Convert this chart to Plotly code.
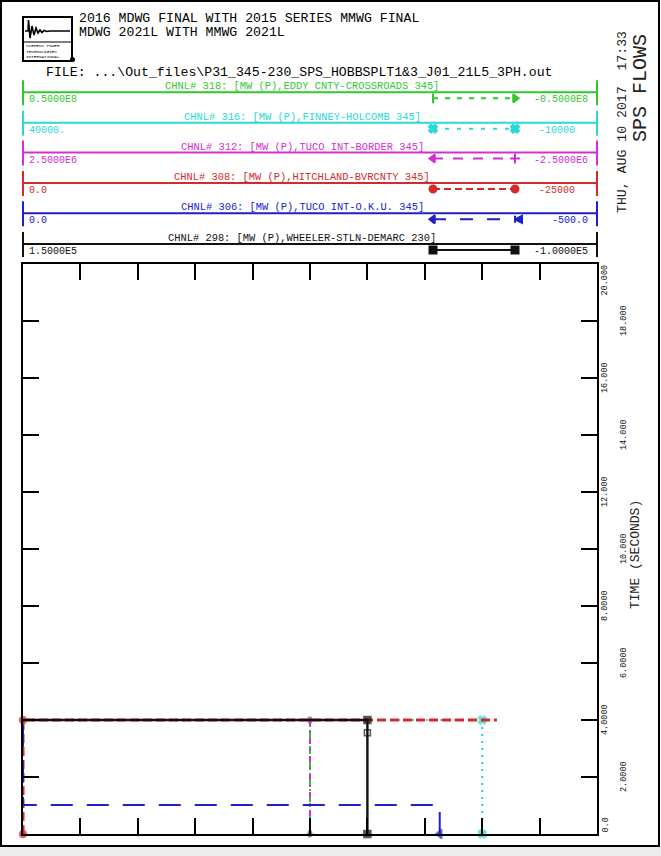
import plotly.graph_objects as go

W, H = 661, 856
FONT = "Liberation Mono"

# ---- channel metadata -------------------------------------------------
chan_titles = [
    "CHNL# 318: [MW (P),EDDY CNTY-CROSSROADS 345]",
    "CHNL# 316: [MW (P),FINNEY-HOLCOMB 345]",
    "CHNL# 312: [MW (P),TUCO INT-BORDER 345]",
    "CHNL# 308: [MW (P),HITCHLAND-BVRCNTY 345]",
    "CHNL# 306: [MW (P),TUCO INT-O.K.U. 345]",
    "CHNL# 298: [MW (P),WHEELER-STLN-DEMARC 230]",
]
chan_colors = ["#2ec82e", "#2ad8d8", "#d22ed2", "#d42a2a", "#2020c8", "#111111"]
scale_left = [0.5e8, 40000.0, 2.5e6, 0.0, 0.0, 1.5e5]
scale_right = [-0.5e8, -10000.0, -2.5e6, -25000.0, -500.0, -1.0e5]
left_labels = ["0.5000E8", "40000.", "2.5000E6", "0.0", "0.0", "1.5000E5"]
right_labels = ["-0.5000E8", "-10000", "-2.5000E6", "-25000", "-500.0", "-1.0000E5"]

# ---- simulated channel output (time in s, flow in MW) -----------------
t_318 = [0.0, 4.0, 4.0]
mw_318 = [0.0, 0.0, 2.45e7]
t_316 = [0.0, 4.0, 4.0]
mw_316 = [0.0, 0.0, 40000.0]
t_312 = [0.0, 4.0, 4.0]
mw_312 = [0.0, 0.0, 1.23e6]
t_308 = [0.0, 4.0, 4.0]
mw_308 = [0.0, 0.0, -20640.0]
t_306 = [0.0, 1.02, 1.02, 4.0]
mw_306 = [-363.0, -363.0, 0.0, 0.0]
t_298 = [0.0, 3.55, 4.0, 4.0]
mw_298 = [0.0, 0.0, 0.0, 1.5e5]

time_ticks = [0, 2, 4, 6, 8, 10, 12, 14, 16, 18, 20]
time_labels = ["0.0", "2.0000", "4.0000", "6.0000", "8.0000", "10.000",
               "12.000", "14.000", "16.000", "18.000", "20.000"]

# ---- page geometry (pixels) -------------------------------------------
PL, PR, PT, PB = 23, 597, 264, 834
panel_lines = [92.3, 122.7, 152.5, 183.0, 213.3, 244.0]
right_label_x = [533, 538, 533, 538, 551, 533]


def px(x):
    return x / W


def py(y):
    return 1 - y / H


fig = go.Figure()

# ---- traces on per-channel value axes ---------------------------------
series = [
    # (x-axis, times, values, colour index, dash, width, marker symbols, sizes)
    ("x2", t_316, mw_316, 1, "2px,5px", 2.2, ["x", "x", "x"], [7, 7, 0]),
    ("x6", t_298, mw_298, 5, "solid", 2.4, ["square", "square-open", "square", "square"], [7, 6, 7, 0]),
    ("x", t_318, mw_318, 0, "8px,3px,2px,3px", 2, ["triangle-right", "triangle-right", "circle"], [6, 6, 0]),
    ("x3", t_312, mw_312, 2, "6px,5px,2px,5px", 2, ["triangle-left", "triangle-left", "circle"], [5, 5, 0]),
    ("x5", t_306, mw_306, 4, "22px,14px", 2, ["triangle-left", "circle", "circle", "circle"], [8, 0, 0, 0]),
    ("x4", t_308, mw_308, 3, "9px,4px", 3, ["circle", "circle", "circle"], [7, 7, 0]),
]
for xa, tt, vv, ci, dash, wdt, syms, sizes in series:
    fig.add_trace(go.Scatter(
        x=vv, y=tt, xaxis=xa, yaxis="y", mode="lines+markers",
        line=dict(color=chan_colors[ci], width=wdt, dash=dash),
        marker=dict(symbol=syms, size=sizes, color=chan_colors[ci],
                    line=dict(color=chan_colors[ci], width=1.5)),
        cliponaxis=False, showlegend=False, hoverinfo="skip",
    ))

# ---- legend keys (drawn on a page-sized overlay axis) ----------------
key_dash = ["5px,7px", "4px,8px", "10px,10px", "7px,4px", "13px,14px", "solid"]
key_syms = [("line-ns-open", "triangle-right"), ("x", "x"),
            ("triangle-left", "cross-thin-open"), ("circle", "circle"),
            ("triangle-left", "arrow-bar-left"), ("square", "square")]
for i in range(6):
    yk = panel_lines[i] + 6
    fig.add_trace(go.Scatter(
        x=[433, 515], y=[yk, yk], xaxis="x7", yaxis="y2", mode="lines+markers",
        line=dict(color=chan_colors[i], width=2, dash=key_dash[i]),
        marker=dict(symbol=list(key_syms[i]), size=7, color=chan_colors[i],
                    line=dict(color=chan_colors[i], width=2)),
        showlegend=False, hoverinfo="skip",
    ))

dom_x = [px(PL), px(PR)]
dom_y = [py(PB), py(PT)]
layout_axes = dict(
    xaxis=dict(domain=dom_x, range=[scale_left[0], scale_right[0]], anchor="y",
               showline=True, linewidth=2, linecolor="black", mirror="ticks",
               ticks="inside", ticklen=16, tickwidth=2, tickcolor="black",
               tick0=0, dtick=1e7, showticklabels=False, showgrid=False, zeroline=False),
    yaxis=dict(domain=dom_y, range=[0, 20], anchor="x",
               showline=True, linewidth=2, linecolor="black", mirror="ticks",
               ticks="inside", ticklen=16, tickwidth=2, tickcolor="black",
               tickvals=time_ticks, showticklabels=False, showgrid=False, zeroline=False),
    xaxis7=dict(domain=[0, 1], range=[0, W], anchor="y2", visible=False),
    yaxis2=dict(domain=[0, 1], range=[H, 0], anchor="x7", visible=False),
)
for k in range(1, 6):
    layout_axes["xaxis%d" % (k + 1)] = dict(
        domain=dom_x, range=[scale_left[k], scale_right[k]], overlaying="x",
        anchor="y", visible=False)

annotations = []
shapes = []


def text(x, y, s, size, color="black", xanchor="left", yanchor="middle", angle=0, xref="paper", yref="paper"):
    annotations.append(dict(
        x=x, y=y, xref=xref, yref=yref, text=s, showarrow=False,
        xanchor=xanchor, yanchor=yanchor, textangle=angle, borderpad=0,
        font=dict(family=FONT, size=size, color=color)))


def line(x0, y0, x1, y1, color="black", width=2):
    shapes.append(dict(type="line", xref="paper", yref="paper",
                       x0=px(x0), y0=py(y0), x1=px(x1), y1=py(y1),
                       line=dict(color=color, width=width)))


# page border and bottom strip
shapes.append(dict(type="rect", xref="paper", yref="paper", x0=0, x1=1,
                   y0=py(856), y1=py(846), fillcolor="#ececec", line=dict(width=0)))
shapes.append(dict(type="rect", xref="paper", yref="paper", x0=px(1), x1=px(659),
                   y0=py(846), y1=py(1), line=dict(color="black", width=2)))

# header logo
shapes.append(dict(type="rect", xref="paper", yref="paper", x0=px(23), x1=px(72),
                   y0=py(61), y1=py(17), line=dict(color="black", width=2)))
wave = [(25, 31), (28, 31), (28.5, 20), (30, 38), (32, 26), (34, 35), (36, 28),
        (38, 33), (40, 30), (42, 32.5), (44, 30.5), (47, 31.5), (50, 31), (70, 31)]
path = "M " + " L ".join("%.4f,%.4f" % (px(a), py(b)) for a, b in wave)
shapes.append(dict(type="path", xref="paper", yref="paper", path=path,
                   line=dict(color="black", width=1.6)))
line(23, 42, 72, 42, width=1.2)
text(px(25), py(46), "SIEMENS POWER", 4.3)
text(px(25), py(51.5), "TECHNOLOGIES", 4.3)
text(px(25), py(57), "INTERNATIONAL", 4.3)
shapes.append(dict(type="circle", xref="paper", yref="paper", x0=px(70), x1=px(75),
                   y0=py(62), y1=py(57), fillcolor="black", line=dict(width=0)))

# header text
text(px(78), py(19), "2016 MDWG FINAL WITH 2015 SERIES MMWG FINAL", 13.2)
text(px(78), py(32), "MDWG 2021L WITH MMWG 2021L", 13.2)
text(px(45), py(72.5), "FILE: ...\\Out_files\\P31_345-230_SPS_HOBBSPLT1&amp;3_J01_21L5_3PH.out", 13.2)
text(px(622), py(122), "THU, AUG 10 2017  17:33", 13.2, color="#222", xanchor="center", angle=-90)
text(px(640), py(88), "SPS FLOWS", 20, color="#222", xanchor="center", angle=-90)

# channel panels
for i in range(6):
    yl = panel_lines[i]
    c = chan_colors[i]
    line(PL, yl - 12, PL, yl + 13, c, 2)
    line(PR, yl - 12, PR, yl + 13, c, 2)
    line(PL, yl, PR, yl, c, 2)
    text(px(302), py(yl - 6), chan_titles[i], 10.4, c, xanchor="center")
    text(px(28), py(yl + 7.5), left_labels[i], 10, c)
    text(px(right_label_x[i]), py(yl + 7.5), right_labels[i], 10, c)

# time axis labels (two staggered columns)
for k, (tv, lab) in enumerate(zip(time_ticks, time_labels)):
    xcol = 605 if k % 2 == 0 else 624
    ya = "middle"
    if tv == time_ticks[0]:
        ya = "bottom"
    elif tv == time_ticks[-1]:
        ya = "top"
    text(px(xcol), tv, lab, 8.5, "#111", xanchor="center", yanchor=ya, angle=-90, yref="y")
text(px(635), py(555), "TIME (SECONDS)", 13, "#222", xanchor="center", angle=-90)

fig.update_layout(
    width=W, height=H, margin=dict(l=0, r=0, t=0, b=0),
    paper_bgcolor="white", plot_bgcolor="rgba(0,0,0,0)",
    showlegend=False, annotations=annotations, shapes=shapes,
    **layout_axes,
)

fig.write_html("out.html")
